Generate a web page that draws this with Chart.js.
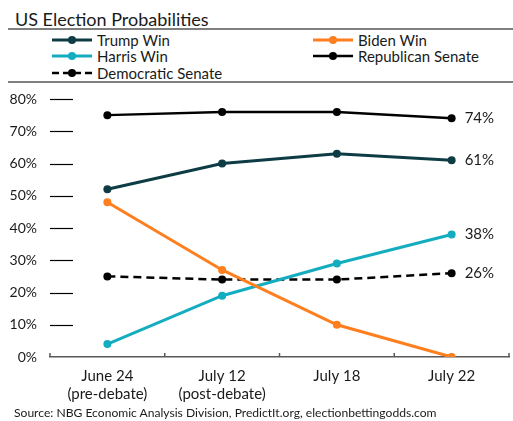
<!DOCTYPE html>
<html>
<head>
<meta charset="utf-8">
<script src="https://cdn.jsdelivr.net/npm/chart.js@4"></script>
<style>
    html, body { margin: 0; padding: 0; background: #fff; }
    body { width: 513px; height: 421px; position: relative; overflow: hidden; font-family: "Lato", "Liberation Sans", sans-serif; color: #1a1a1a; }
    #title { position: absolute; left: 15px; top: 8px; font-size: 18px; }
    .rule { position: absolute; left: 8px; right: 0; height: 0; border-top: 2px solid #7f7f7f; }
    #legend { position: absolute; left: 0; top: 30px; width: 513px; height: 50px; font-size: 15px; }
    .item { position: absolute; display: flex; align-items: center; height: 16px; white-space: nowrap; }
    .item svg { margin-right: 3px; }
    #chart { position: absolute; left: 0; top: 0; }
    #source { position: absolute; left: 14px; top: 405px; font-size: 12.1px; white-space: nowrap; }
</style>
</head>
<body>
<div id="title">US Election Probabilities</div>
<div class="rule" style="top: 28px;"></div>
<div id="legend"></div>
<div class="rule" style="top: 81px;"></div>
<canvas id="chart" width="513" height="421"></canvas>
<div id="source">Source: NBG Economic Analysis Division, PredictIt.org, electionbettingodds.com</div>
<script>
// 數據
const categories = [["June 24", "(pre-debate)"], ["July 12", "(post-debate)"], "July 18", "July 22"];
const trumpWin = [52, 60, 63, 61];
const bidenWin = [48, 27, 10, 0];
const harrisWin = [4, 19, 29, 38];
const republicanSenate = [75, 76, 76, 74];
const democraticSenate = [25, 24, 24, 26];
const yTicks = [0, 10, 20, 30, 40, 50, 60, 70, 80];

const series = [
    { label: "Trump Win", data: trumpWin, color: "#0d3c45", width: 3, endLabel: true },
    { label: "Biden Win", data: bidenWin, color: "#ff7f1f", width: 3, endLabel: false },
    { label: "Harris Win", data: harrisWin, color: "#14adc0", width: 3, endLabel: true },
    { label: "Republican Senate", data: republicanSenate, color: "#000000", width: 2.5, endLabel: true },
    { label: "Democratic Senate", data: democraticSenate, color: "#000000", width: 2.5, dash: [8, 5], endLabel: true },
];

// 圖例 (兩欄)
const legendPos = [[52, 2], [313, 2], [52, 18], [313, 18], [52, 35]];
const legend = document.getElementById("legend");
series.forEach((s, i) => {
    const el = document.createElement("div");
    el.className = "item";
    el.style.left = legendPos[i][0] + "px";
    el.style.top = legendPos[i][1] + "px";
    const dash = s.dash ? ' stroke-dasharray="7,4"' : "";
    el.innerHTML =
        `<svg width="42" height="10"><line x1="0" y1="5" x2="40" y2="5" stroke="${s.color}" stroke-width="${s.width}"${dash}/>` +
        `<circle cx="20" cy="5" r="4" fill="${s.color}"/></svg><span>${s.label}</span>`;
    legend.appendChild(el);
});

// 軸上的短刻度線與末端數值
const axisMarks = {
    id: "axisMarks",
    afterDatasetsDraw(chart) {
        const { ctx, chartArea, scales } = chart;
        ctx.save();
        ctx.strokeStyle = "#000";
        ctx.lineWidth = 1.2;
        yTicks.forEach((v) => {
            if (v === 0) return;
            const y = Math.round(scales.y.getPixelForValue(v)) + 0.5;
            ctx.beginPath();
            ctx.moveTo(chartArea.left, y);
            ctx.lineTo(chartArea.left + 23, y);
            ctx.stroke();
        });
        ctx.strokeStyle = "#595959";
        ctx.lineWidth = 1.5;
        const n = categories.length;
        for (let i = 0; i <= n; i++) {
            const x = chartArea.left + (chartArea.right - chartArea.left) * i / n;
            ctx.beginPath();
            ctx.moveTo(x, chartArea.bottom);
            ctx.lineTo(x, chartArea.bottom - 4);
            ctx.stroke();
        }
        ctx.fillStyle = "#1a1a1a";
        ctx.font = "15px Lato, 'Liberation Sans', sans-serif";
        ctx.textBaseline = "middle";
        ctx.textAlign = "left";
        chart.data.datasets.forEach((ds, i) => {
            if (!series[i].endLabel) return;
            const pt = chart.getDatasetMeta(i).data[ds.data.length - 1];
            ctx.fillText(ds.data[ds.data.length - 1] + "%", pt.x + 13, pt.y);
        });
        ctx.restore();
    },
};

const ctx = document.getElementById("chart").getContext("2d");
new Chart(ctx, {
    type: "line",
    data: {
        labels: categories,
        datasets: series.map((s) => ({
            label: s.label,
            data: s.data,
            borderColor: s.color,
            backgroundColor: s.color,
            borderWidth: s.width,
            borderDash: s.dash || [],
            pointRadius: 4,
            pointHoverRadius: 4,
            pointBorderWidth: 0,
            tension: 0,
        })),
    },
    options: {
        responsive: false,
        animation: false,
        maintainAspectRatio: false,
        layout: { padding: { top: 99, right: 3, left: 0, bottom: 0 } },
        plugins: {
            legend: { display: false },
            tooltip: { enabled: false },
        },
        scales: {
            x: {
                offset: true,
                grid: { display: false, drawTicks: false },
                border: { display: true, color: "#595959", width: 1.5 },
                ticks: {
                    padding: 10,
                    color: "#1a1a1a",
                    font: { family: "Lato, 'Liberation Sans', sans-serif", size: 15, lineHeight: 1.2 },
                    maxRotation: 0,
                    autoSkip: false,
                },
                afterFit: (scale) => { scale.height = 64; },
            },
            y: {
                min: 0,
                max: 80,
                grid: { display: false, drawTicks: false },
                border: { display: false },
                afterBuildTicks: (scale) => { scale.ticks = yTicks.map((v) => ({ value: v })); },
                ticks: {
                    padding: 13,
                    color: "#1a1a1a",
                    font: { family: "Lato, 'Liberation Sans', sans-serif", size: 14 },
                    callback: (v) => v + "%",
                },
                afterFit: (scale) => { scale.width = 50; },
            },
        },
    },
    plugins: [axisMarks],
});
</script>
</body>
</html>
